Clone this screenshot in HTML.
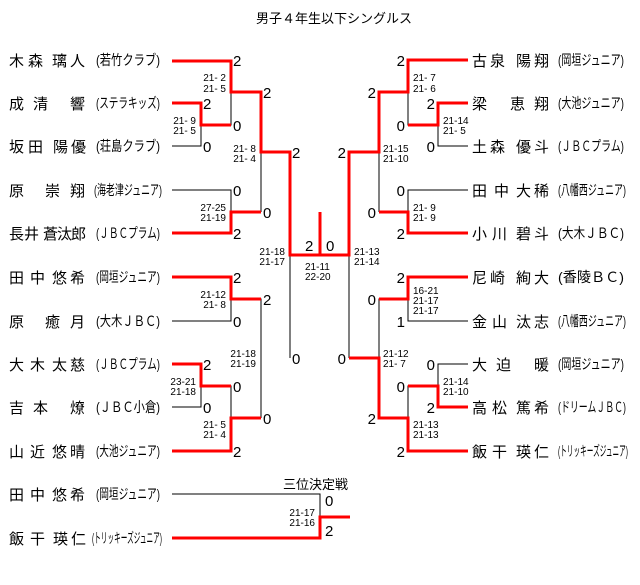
<!DOCTYPE html>
<html><head><meta charset="utf-8"><style>
body{margin:0;background:#fff}
svg{display:block}
.n{font-family:"Liberation Sans","Noto Sans CJK JP",sans-serif;font-size:15px;fill:#000}
.c{font-family:"Liberation Sans","Noto Sans CJK JP",sans-serif;font-size:14px;fill:#000}
.s{font-family:"Liberation Sans",sans-serif;font-size:15px;fill:#000}
.m{font-family:"Liberation Sans",sans-serif;font-size:10px;fill:#000}
.r{stroke:#f00;stroke-width:3;fill:none}
.b{stroke:#000;stroke-width:1;fill:none}
</style></head><body>
<svg width="640" height="585" viewBox="0 0 640 585" xmlns="http://www.w3.org/2000/svg">
<text x="334" y="23" text-anchor="middle" class="n" style="font-size:13px">男子４年生以下シングルス</text>

<text class="n" y="66" x="9 28 52 70">木森璃人</text><text class="c" y="65" x="96" textLength="64" lengthAdjust="spacingAndGlyphs">(若竹クラブ)</text>
<text class="n" y="109" x="9 33 70">成清響</text><text class="c" y="108" x="96" textLength="64" lengthAdjust="spacingAndGlyphs">(ステラキッズ)</text>
<text class="n" y="152" x="9 28 53 71">坂田陽優</text><text class="c" y="151" x="96" textLength="64" lengthAdjust="spacingAndGlyphs">(荘島クラブ)</text>
<text class="n" y="196" x="9 45 70">原崇翔</text><text class="c" y="195" x="94" textLength="68" lengthAdjust="spacingAndGlyphs">(海老津ジュニア)</text>
<text class="n" y="239" x="9 24 43 57 71">長井蒼汰郎</text><text class="c" y="238" x="96" textLength="64" lengthAdjust="spacingAndGlyphs">(ＪＢＣプラム)</text>
<text class="n" y="283" x="9 30 52 70">田中悠希</text><text class="c" y="282" x="96" textLength="64" lengthAdjust="spacingAndGlyphs">(岡垣ジュニア)</text>
<text class="n" y="327" x="9 45 70">原癒月</text><text class="c" y="326" x="96" textLength="64" lengthAdjust="spacingAndGlyphs">(大木ＪＢＣ)</text>
<text class="n" y="370" x="9 30 52 70">大木太慈</text><text class="c" y="369" x="96" textLength="64" lengthAdjust="spacingAndGlyphs">(ＪＢＣプラム)</text>
<text class="n" y="413" x="9 33 70">吉本燎</text><text class="c" y="412" x="96" textLength="64" lengthAdjust="spacingAndGlyphs">(ＪＢＣ小倉)</text>
<text class="n" y="457" x="9 30 52 70">山近悠晴</text><text class="c" y="456" x="96" textLength="64" lengthAdjust="spacingAndGlyphs">(大池ジュニア)</text>
<text class="n" y="500" x="9 30 52 70">田中悠希</text><text class="c" y="499" x="96" textLength="64" lengthAdjust="spacingAndGlyphs">(岡垣ジュニア)</text>
<text class="n" y="544" x="9 30 53 71">飯干瑛仁</text><text class="c" y="543" x="92" textLength="70" lengthAdjust="spacingAndGlyphs">(トリッキーズジュニア)</text>

<text class="n" y="66" x="472 490 516 534">古泉陽翔</text><text class="c" y="65" x="558" textLength="66" lengthAdjust="spacingAndGlyphs">(岡垣ジュニア)</text>
<text class="n" y="109" x="472 510 534">梁恵翔</text><text class="c" y="108" x="558" textLength="66" lengthAdjust="spacingAndGlyphs">(大池ジュニア)</text>
<text class="n" y="152" x="472 490 516 534">土森優斗</text><text class="c" y="151" x="558" textLength="66" lengthAdjust="spacingAndGlyphs">(ＪＢＣプラム)</text>
<text class="n" y="196" x="472 494 516 534">田中大稀</text><text class="c" y="195" x="558" textLength="68" lengthAdjust="spacingAndGlyphs">(八幡西ジュニア)</text>
<text class="n" y="239" x="472 492 516 534">小川碧斗</text><text class="c" y="238" x="558" textLength="66" lengthAdjust="spacingAndGlyphs">(大木ＪＢＣ)</text>
<text class="n" y="283" x="472 490 516 534">尼崎絢大</text><text class="c" y="282" x="558" textLength="66" lengthAdjust="spacingAndGlyphs">(香陵ＢＣ)</text>
<text class="n" y="327" x="472 492 516 534">金山汰志</text><text class="c" y="326" x="558" textLength="68" lengthAdjust="spacingAndGlyphs">(八幡西ジュニア)</text>
<text class="n" y="370" x="472 496 534">大迫暖</text><text class="c" y="369" x="558" textLength="66" lengthAdjust="spacingAndGlyphs">(岡垣ジュニア)</text>
<text class="n" y="413" x="472 492 516 534">高松篤希</text><text class="c" y="412" x="558" textLength="68" lengthAdjust="spacingAndGlyphs">(ドリームＪＢＣ)</text>
<text class="n" y="457" x="472 492 516 534">飯干瑛仁</text><text class="c" y="456" x="558" textLength="70" lengthAdjust="spacingAndGlyphs">(トリッキーズジュニア)</text>

<path class="b" d="M172 146H201V103 M201 125H231V61 M172 190H231V233 M231 92H261V212 M261 152H290V358 M172 321H231V277 M172 407H201V364 M201 386H231V451 M231 299H261V418 M290 255H349 M172 494H320V538"/>
<path class="b" d="M468 146H438V103 M438 125H408V60 M468 190H408V233 M408 92H379V212 M468 321H408V277 M468 364H438V407 M438 386H408V451 M408 299H379V418 M379 152H349V358"/>

<path class="r" d="M172 61H231V92H261V152H290V255H320V212"/>
<path class="r" d="M172 103H201V125H231"/>
<path class="r" d="M172 233H231V212H261"/>
<path class="r" d="M172 277H231V299H261"/>
<path class="r" d="M172 364H201V386H231"/>
<path class="r" d="M172 451H231V418H261"/>
<path class="r" d="M468 60H408V92H379V152H349V255H320"/>
<path class="r" d="M468 103H438V125H408"/>
<path class="r" d="M468 233H408V212H379"/>
<path class="r" d="M468 277H408V299H379"/>
<path class="r" d="M468 407H438V386H408"/>
<path class="r" d="M468 451H408V418H379V358H349"/>
<path class="r" d="M172 538H320V517H350"/>

<g class="s">
<text x="233" y="66">2</text><text x="203" y="109">2</text><text x="203" y="152">0</text><text x="233" y="131">0</text>
<text x="233" y="196">0</text><text x="233" y="239">2</text><text x="263" y="98">2</text><text x="263" y="218">0</text>
<text x="292" y="158">2</text><text x="292" y="364">0</text>
<text x="233" y="283">2</text><text x="233" y="327">0</text><text x="203" y="370">2</text><text x="203" y="413">0</text>
<text x="233" y="392">0</text><text x="233" y="457">2</text><text x="263" y="305">2</text><text x="263" y="424">0</text>
<text x="305" y="251">2</text><text x="326" y="251">0</text>
<text x="325" y="506">0</text><text x="325" y="536">2</text>
</g>
<g class="s" text-anchor="end">
<text x="405" y="66">2</text><text x="405" y="131">0</text><text x="405" y="196">0</text><text x="405" y="239">2</text>
<text x="435" y="109">2</text><text x="435" y="152">0</text>
<text x="376" y="98">2</text><text x="376" y="218">0</text>
<text x="346" y="158">2</text><text x="346" y="364">0</text>
<text x="405" y="283">2</text><text x="405" y="327">1</text><text x="405" y="392">0</text><text x="405" y="457">2</text>
<text x="435" y="370">0</text><text x="435" y="413">2</text>
<text x="376" y="305">0</text><text x="376" y="424">2</text>
</g>
<text x="283" y="489" class="n" style="font-size:13px">三位決定戦</text>

<g class="m" text-anchor="end">
<text x="226" y="81">21- 2</text><text x="226" y="92">21- 5</text>
<text x="196" y="124">21- 9</text><text x="196" y="134">21- 5</text>
<text x="256" y="152">21- 8</text><text x="256" y="162">21- 4</text>
<text x="226" y="211">27-25</text><text x="226" y="221">21-19</text>
<text x="285" y="255">21-18</text><text x="285" y="265">21-17</text>
<text x="226" y="298">21-12</text><text x="226" y="308">21- 8</text>
<text x="256" y="357">21-18</text><text x="256" y="367">21-19</text>
<text x="196" y="385">23-21</text><text x="196" y="395">21-18</text>
<text x="226" y="428">21- 5</text><text x="226" y="438">21- 4</text>
<text x="315" y="516">21-17</text><text x="315" y="526">21-16</text>
</g>
<g class="m">
<text x="305" y="270">21-11</text><text x="305" y="280">22-20</text>
<text x="354" y="255">21-13</text><text x="354" y="265">21-14</text>
<text x="413" y="81">21- 7</text><text x="413" y="92">21- 6</text>
<text x="443" y="124">21-14</text><text x="443" y="134">21- 5</text>
<text x="383" y="152">21-15</text><text x="383" y="162">21-10</text>
<text x="413" y="211">21- 9</text><text x="413" y="221">21- 9</text>
<text x="413" y="294">16-21</text><text x="413" y="304">21-17</text><text x="413" y="314">21-17</text>
<text x="383" y="357">21-12</text><text x="383" y="367">21- 7</text>
<text x="443" y="385">21-14</text><text x="443" y="395">21-10</text>
<text x="413" y="428">21-13</text><text x="413" y="438">21-13</text>
</g>
</svg>
</body></html>
